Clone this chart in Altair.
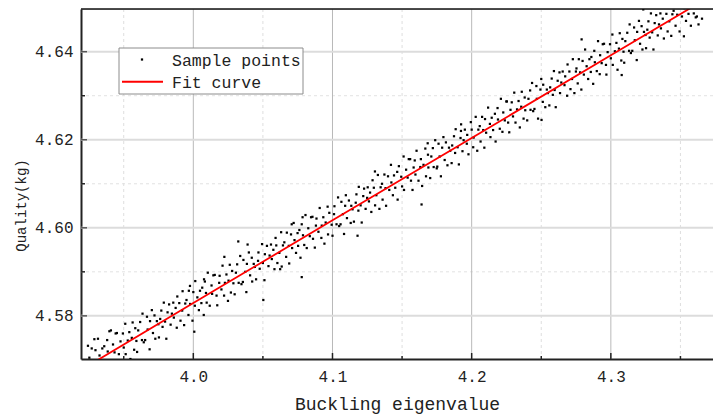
import altair as alt
import pandas as pd

# ---------------- data ----------------
sample_x = [
    3.9253, 3.9262, 3.9270, 3.9279, 3.9288, 3.9297, 3.9306, 3.9315, 3.9326, 3.9337, 3.9346,
    3.9356, 3.9360, 3.9373, 3.9381, 3.9385, 3.9399, 3.9408, 3.9420, 3.9423, 3.9434, 3.9442,
    3.9451, 3.9465, 3.9468, 3.9477, 3.9494, 3.9500, 3.9511, 3.9514, 3.9529, 3.9540, 3.9548,
    3.9558, 3.9564, 3.9575, 3.9583, 3.9591, 3.9596, 3.9604, 3.9618, 3.9631, 3.9635, 3.9644,
    3.9654, 3.9667, 3.9672, 3.9686, 3.9689, 3.9702, 3.9710, 3.9721, 3.9727, 3.9738, 3.9749,
    3.9753, 3.9762, 3.9770, 3.9779, 3.9788, 3.9797, 3.9806, 3.9815, 3.9826, 3.9837, 3.9846,
    3.9856, 3.9860, 3.9873, 3.9881, 3.9885, 3.9899, 3.9908, 3.9920, 3.9923, 3.9934, 3.9942,
    3.9951, 3.9965, 3.9968, 3.9977, 3.9994, 4.0000, 4.0011, 4.0014, 4.0029, 4.0040, 4.0048,
    4.0058, 4.0064, 4.0075, 4.0083, 4.0091, 4.0096, 4.0104, 4.0118, 4.0131, 4.0135, 4.0144,
    4.0154, 4.0167, 4.0172, 4.0186, 4.0189, 4.0202, 4.0210, 4.0221, 4.0227, 4.0238, 4.0249,
    4.0253, 4.0262, 4.0270, 4.0279, 4.0288, 4.0297, 4.0306, 4.0315, 4.0326, 4.0337, 4.0346,
    4.0356, 4.0360, 4.0373, 4.0381, 4.0385, 4.0399, 4.0408, 4.0420, 4.0423, 4.0434, 4.0442,
    4.0451, 4.0465, 4.0468, 4.0477, 4.0494, 4.0500, 4.0511, 4.0514, 4.0529, 4.0540, 4.0548,
    4.0558, 4.0564, 4.0575, 4.0583, 4.0591, 4.0596, 4.0604, 4.0618, 4.0631, 4.0635, 4.0644,
    4.0654, 4.0667, 4.0672, 4.0686, 4.0689, 4.0702, 4.0710, 4.0721, 4.0727, 4.0738, 4.0749,
    4.0753, 4.0762, 4.0770, 4.0779, 4.0788, 4.0797, 4.0806, 4.0815, 4.0826, 4.0837, 4.0846,
    4.0856, 4.0860, 4.0873, 4.0881, 4.0885, 4.0899, 4.0908, 4.0920, 4.0923, 4.0934, 4.0942,
    4.0951, 4.0965, 4.0968, 4.0977, 4.0994, 4.1000, 4.1011, 4.1014, 4.1029, 4.1040, 4.1048,
    4.1058, 4.1064, 4.1075, 4.1083, 4.1091, 4.1096, 4.1104, 4.1118, 4.1131, 4.1135, 4.1144,
    4.1154, 4.1167, 4.1172, 4.1186, 4.1189, 4.1202, 4.1210, 4.1221, 4.1227, 4.1238, 4.1249,
    4.1253, 4.1262, 4.1270, 4.1279, 4.1288, 4.1297, 4.1306, 4.1315, 4.1326, 4.1337, 4.1346,
    4.1356, 4.1360, 4.1373, 4.1381, 4.1385, 4.1399, 4.1408, 4.1420, 4.1423, 4.1434, 4.1442,
    4.1451, 4.1465, 4.1468, 4.1477, 4.1494, 4.1500, 4.1511, 4.1514, 4.1529, 4.1540, 4.1548,
    4.1558, 4.1564, 4.1575, 4.1583, 4.1591, 4.1596, 4.1604, 4.1618, 4.1631, 4.1635, 4.1644,
    4.1654, 4.1667, 4.1672, 4.1686, 4.1689, 4.1702, 4.1710, 4.1721, 4.1727, 4.1738, 4.1749,
    4.1753, 4.1762, 4.1770, 4.1779, 4.1788, 4.1797, 4.1806, 4.1815, 4.1826, 4.1837, 4.1846,
    4.1856, 4.1860, 4.1873, 4.1881, 4.1885, 4.1899, 4.1908, 4.1920, 4.1923, 4.1934, 4.1942,
    4.1951, 4.1965, 4.1968, 4.1977, 4.1994, 4.2000, 4.2011, 4.2014, 4.2029, 4.2040, 4.2048,
    4.2058, 4.2064, 4.2075, 4.2083, 4.2091, 4.2096, 4.2104, 4.2118, 4.2131, 4.2135, 4.2144,
    4.2154, 4.2167, 4.2172, 4.2186, 4.2189, 4.2202, 4.2210, 4.2221, 4.2227, 4.2238, 4.2249,
    4.2253, 4.2262, 4.2270, 4.2279, 4.2288, 4.2297, 4.2306, 4.2315, 4.2326, 4.2337, 4.2346,
    4.2356, 4.2360, 4.2373, 4.2381, 4.2385, 4.2399, 4.2408, 4.2420, 4.2423, 4.2434, 4.2442,
    4.2451, 4.2465, 4.2468, 4.2477, 4.2494, 4.2500, 4.2511, 4.2514, 4.2529, 4.2540, 4.2548,
    4.2558, 4.2564, 4.2575, 4.2583, 4.2591, 4.2596, 4.2604, 4.2618, 4.2631, 4.2635, 4.2644,
    4.2654, 4.2667, 4.2672, 4.2686, 4.2689, 4.2702, 4.2710, 4.2721, 4.2727, 4.2738, 4.2749,
    4.2753, 4.2762, 4.2770, 4.2779, 4.2788, 4.2797, 4.2806, 4.2815, 4.2826, 4.2837, 4.2846,
    4.2856, 4.2860, 4.2873, 4.2881, 4.2885, 4.2899, 4.2908, 4.2920, 4.2923, 4.2934, 4.2942,
    4.2951, 4.2965, 4.2968, 4.2977, 4.2994, 4.3000, 4.3011, 4.3014, 4.3029, 4.3040, 4.3048,
    4.3058, 4.3064, 4.3075, 4.3083, 4.3091, 4.3096, 4.3104, 4.3118, 4.3131, 4.3135, 4.3144,
    4.3154, 4.3167, 4.3172, 4.3186, 4.3189, 4.3202, 4.3210, 4.3221, 4.3227, 4.3238, 4.3249,
    4.3253, 4.3262, 4.3270, 4.3279, 4.3288, 4.3297, 4.3306, 4.3315, 4.3326, 4.3337, 4.3346,
    4.3356, 4.3360, 4.3373, 4.3381, 4.3385, 4.3399, 4.3408, 4.3420, 4.3423, 4.3434, 4.3442,
    4.3451, 4.3465, 4.3468, 4.3477, 4.3494, 4.3500, 4.3511, 4.3514, 4.3529, 4.3540, 4.3548,
    4.3558, 4.3564, 4.3575, 4.3583, 4.3591, 4.3596, 4.3604, 4.3618, 4.3631, 4.3635, 4.3644,
    # isolated points
    4.0007, 4.0323, 4.0390, 4.0503, 4.0624, 4.0707, 4.0779, 4.0785, 4.1180, 4.1305,
    4.1640, 4.1684, 4.1924, 4.2502, 4.2790, 4.3078, 4.3233, 4.3525, 4.3655, 3.9243,
    3.9289, 3.9397, 4.0223, 3.9976, 4.0077, 4.3610, 4.3630,
]
sample_y = [
    4.5705, 4.5671, 4.5726, 4.5696, 4.5657, 4.5722, 4.5691, 4.5748, 4.5710, 4.5681, 4.5726,
    4.5697, 4.5731, 4.5670, 4.5745, 4.5719, 4.5699, 4.5767, 4.5692, 4.5735, 4.5717, 4.5760,
    4.5761, 4.5713, 4.5691, 4.5742, 4.5760, 4.5728, 4.5782, 4.5713, 4.5744, 4.5763, 4.5702,
    4.5750, 4.5785, 4.5723, 4.5772, 4.5743, 4.5718, 4.5767, 4.5786, 4.5745, 4.5805, 4.5740,
    4.5745, 4.5798, 4.5769, 4.5724, 4.5788, 4.5813, 4.5761, 4.5801, 4.5748, 4.5788, 4.5781,
    4.5751, 4.5793, 4.5812, 4.5775, 4.5830, 4.5787, 4.5748, 4.5808, 4.5826, 4.5780, 4.5805,
    4.5830, 4.5796, 4.5818, 4.5773, 4.5844, 4.5829, 4.5789, 4.5812, 4.5856, 4.5779, 4.5828,
    4.5836, 4.5802, 4.5857, 4.5827, 4.5789, 4.5854, 4.5823, 4.5879, 4.5842, 4.5813, 4.5857,
    4.5829, 4.5864, 4.5802, 4.5878, 4.5852, 4.5830, 4.5898, 4.5823, 4.5869, 4.5850, 4.5892,
    4.5893, 4.5846, 4.5824, 4.5875, 4.5891, 4.5860, 4.5914, 4.5846, 4.5875, 4.5894, 4.5834,
    4.5880, 4.5916, 4.5853, 4.5902, 4.5874, 4.5849, 4.5898, 4.5917, 4.5875, 4.5936, 4.5872,
    4.5877, 4.5927, 4.5900, 4.5854, 4.5918, 4.5944, 4.5892, 4.5932, 4.5878, 4.5918, 4.5911,
    4.5883, 4.5925, 4.5944, 4.5907, 4.5963, 4.5920, 4.5881, 4.5940, 4.5959, 4.5913, 4.5937,
    4.5962, 4.5929, 4.5950, 4.5906, 4.5977, 4.5960, 4.5920, 4.5943, 4.5990, 4.5912, 4.5960,
    4.5967, 4.5934, 4.5989, 4.5959, 4.5919, 4.5985, 4.5954, 4.6011, 4.5972, 4.5943, 4.5988,
    4.5959, 4.5995, 4.5932, 4.6008, 4.5983, 4.5961, 4.6029, 4.5954, 4.5999, 4.5981, 4.6024,
    4.6025, 4.5975, 4.5955, 4.6005, 4.6021, 4.5991, 4.6045, 4.5977, 4.6005, 4.6024, 4.5964,
    4.6012, 4.6048, 4.5985, 4.6034, 4.6007, 4.5982, 4.6031, 4.6049, 4.6008, 4.6069, 4.6004,
    4.6008, 4.6059, 4.6031, 4.5986, 4.6050, 4.6074, 4.6022, 4.6062, 4.6011, 4.6050, 4.6042,
    4.6014, 4.6057, 4.6076, 4.6039, 4.6093, 4.6051, 4.6012, 4.6072, 4.6089, 4.6043, 4.6068,
    4.6092, 4.6060, 4.6080, 4.6036, 4.6108, 4.6091, 4.6051, 4.6074, 4.6120, 4.6043, 4.6092,
    4.6100, 4.6064, 4.6121, 4.6090, 4.6050, 4.6117, 4.6086, 4.6143, 4.6103, 4.6074, 4.6119,
    4.6091, 4.6127, 4.6064, 4.6140, 4.6116, 4.6094, 4.6162, 4.6086, 4.6132, 4.6114, 4.6156,
    4.6156, 4.6107, 4.6086, 4.6137, 4.6153, 4.6121, 4.6175, 4.6107, 4.6138, 4.6156, 4.6095,
    4.6143, 4.6180, 4.6117, 4.6166, 4.6137, 4.6113, 4.6162, 4.6181, 4.6138, 4.6199, 4.6135,
    4.6139, 4.6191, 4.6162, 4.6117, 4.6182, 4.6206, 4.6154, 4.6194, 4.6142, 4.6182, 4.6175,
    4.6147, 4.6187, 4.6208, 4.6170, 4.6224, 4.6183, 4.6144, 4.6204, 4.6220, 4.6174, 4.6199,
    4.6223, 4.6191, 4.6211, 4.6167, 4.6240, 4.6223, 4.6183, 4.6205, 4.6252, 4.6175, 4.6223,
    4.6231, 4.6196, 4.6252, 4.6222, 4.6182, 4.6247, 4.6216, 4.6273, 4.6236, 4.6206, 4.6250,
    4.6222, 4.6259, 4.6196, 4.6272, 4.6246, 4.6225, 4.6293, 4.6218, 4.6262, 4.6244, 4.6287,
    4.6287, 4.6239, 4.6217, 4.6268, 4.6285, 4.6253, 4.6307, 4.6239, 4.6269, 4.6288, 4.6228,
    4.6275, 4.6309, 4.6248, 4.6296, 4.6267, 4.6244, 4.6293, 4.6312, 4.6268, 4.6329, 4.6265,
    4.6270, 4.6322, 4.6293, 4.6248, 4.6314, 4.6338, 4.6286, 4.6325, 4.6274, 4.6314, 4.6306,
    4.6278, 4.6319, 4.6339, 4.6302, 4.6356, 4.6313, 4.6274, 4.6334, 4.6353, 4.6306, 4.6330,
    4.6355, 4.6324, 4.6344, 4.6300, 4.6371, 4.6355, 4.6315, 4.6338, 4.6383, 4.6306, 4.6355,
    4.6362, 4.6328, 4.6383, 4.6353, 4.6314, 4.6379, 4.6348, 4.6405, 4.6367, 4.6338, 4.6383,
    4.6354, 4.6388, 4.6327, 4.6402, 4.6376, 4.6356, 4.6424, 4.6349, 4.6392, 4.6374, 4.6417,
    4.6418, 4.6370, 4.6348, 4.6399, 4.6417, 4.6385, 4.6439, 4.6370, 4.6401, 4.6420, 4.6359,
    4.6407, 4.6442, 4.6380, 4.6429, 4.6400, 4.6375, 4.6424, 4.6443, 4.6402, 4.6462, 4.6397,
    4.6402, 4.6455, 4.6426, 4.6381, 4.6445, 4.6470, 4.6418, 4.6458, 4.6405, 4.6445, 4.6438,
    4.6408, 4.6450, 4.6469, 4.6432, 4.6487, 4.6444, 4.6405, 4.6465, 4.6483, 4.6437, 4.6462,
    4.6487, 4.6453, 4.6475, 4.6430, 4.6501, 4.6486, 4.6446, 4.6469, 4.6513, 4.6436, 4.6485,
    4.6493, 4.6459, 4.6514, 4.6484, 4.6446, 4.6511, 4.6480, 4.6536, 4.6499, 4.6470, 4.6514,
    4.6486, 4.6521, 4.6459, 4.6535, 4.6509, 4.6487, 4.6555, 4.6480, 4.6526, 4.6507, 4.6549,
    # isolated points
    4.5764, 4.5969, 4.5962, 4.5836, 4.5906, 4.6008, 4.5888, 4.6024, 4.5982, 4.6128,
    4.6053, 4.6192, 4.6235, 4.6245, 4.6428, 4.6347, 4.6496, 4.6435, 4.6475, 4.5732,
    4.5747, 4.5765, 4.5934, 4.5868, 4.5883, 4.6478, 4.6462,
]
fit_x = [3.9315, 4.0, 4.1, 4.2, 4.3, 4.3577]
fit_y = [4.5700, 4.5829, 4.6017, 4.6204, 4.6392, 4.6500]

x_major = [4.0, 4.1, 4.2, 4.3]
x_minor = [3.95, 4.05, 4.15, 4.25, 4.35]
y_major = [4.58, 4.60, 4.62, 4.64]
y_minor = [4.59, 4.61, 4.63]
legend_labels = ["Sample points", "Fit curve"]

# ---------------- chart ----------------
W, H = 632, 350
FONT = "Liberation Mono"
xs = alt.Scale(domain=[3.9193, 4.3734], nice=False, zero=False)
ys = alt.Scale(domain=[4.5702, 4.6497], nice=False, zero=False)

x_axis = alt.Axis(
    values=x_major, format=".1f", title="Buckling eigenvalue", grid=False, ticks=False,
    domainColor="#222", domainWidth=2, labelFont=FONT, labelFontSize=16,
    labelColor="#222", labelPadding=9, titleFont=FONT, titleFontSize=18,
    titleFontWeight="normal", titleColor="#222", titlePadding=11)
y_axis = alt.Axis(
    values=y_major, format=".2f", title="Quality(kg)", grid=False, ticks=False,
    domainColor="#222", domainWidth=2, labelFont=FONT, labelFontSize=16,
    labelColor="#222", labelPadding=8, titleFont=FONT, titleFontSize=14,
    titleFontWeight="normal", titleColor="#222", titleX=-53, titleY=196,
    titleBaseline="bottom")

def X():
    return alt.X("x:Q", scale=xs, axis=x_axis)

def Y():
    return alt.Y("y:Q", scale=ys, axis=y_axis)

n = min(len(sample_x), len(sample_y))
pts = pd.DataFrame({"x": sample_x[:n], "y": sample_y[:n]})
fit = pd.DataFrame({"x": fit_x, "y": fit_y})
one = pd.DataFrame({"a": [0]})

vgrid_major = alt.Chart(pd.DataFrame({"x": x_major})).mark_rule(
    color="#b9b9b9", strokeWidth=1).encode(x=X())
vgrid_minor = alt.Chart(pd.DataFrame({"x": x_minor})).mark_rule(
    color="#dedede", strokeWidth=1, strokeDash=[3, 3]).encode(x=X())
hgrid_major = alt.Chart(pd.DataFrame({"y": y_major})).mark_rule(
    color="#dcdcdc", strokeWidth=2).encode(y=Y())
hgrid_minor = alt.Chart(pd.DataFrame({"y": y_minor})).mark_rule(
    color="#e2e2e2", strokeWidth=1, strokeDash=[3, 3]).encode(y=Y())

xt_major = alt.Chart(pd.DataFrame({"x": x_major})).mark_rule(color="#222", strokeWidth=1.5).encode(
    x=X(), y=alt.value(H), y2=alt.value(H - 6))
xt_minor = alt.Chart(pd.DataFrame({"x": x_minor})).mark_rule(color="#222", strokeWidth=1.5).encode(
    x=X(), y=alt.value(H), y2=alt.value(H - 3))
yt_major = alt.Chart(pd.DataFrame({"y": y_major})).mark_rule(color="#555", strokeWidth=1.5).encode(
    y=Y(), x=alt.value(0), x2=alt.value(6))
yt_minor = alt.Chart(pd.DataFrame({"y": y_minor})).mark_rule(color="#222", strokeWidth=1.5).encode(
    y=Y(), x=alt.value(0), x2=alt.value(4))
top_border = alt.Chart(one).mark_rule(color="#111", strokeWidth=1.5).encode(
    x=alt.value(0), x2=alt.value(W), y=alt.value(0))

scatter = alt.Chart(pts).mark_square(size=5, color="#000", opacity=1, clip=True).encode(
    x=X(), y=Y())
fit_line = alt.Chart(fit).mark_line(color="#ff0000", strokeWidth=1.8, clip=True).encode(
    x=X(), y=Y())

legend_box = alt.Chart(one).mark_rect(fill="white", stroke="#8c8c8c", strokeWidth=1).encode(
    x=alt.value(38), x2=alt.value(222), y=alt.value(39), y2=alt.value(85))
legend_dot = alt.Chart(one).mark_square(size=5, color="#000", opacity=1).encode(
    x=alt.value(61), y=alt.value(50.5))
legend_line = alt.Chart(one).mark_rule(color="#ff0000", strokeWidth=2).encode(
    x=alt.value(41), x2=alt.value(82), y=alt.value(72.7))
legend_t1 = alt.Chart(one).mark_text(font=FONT, fontSize=16.5, align="left", baseline="middle",
                                      color="#222").encode(
    x=alt.value(91), y=alt.value(51.5), text=alt.value(legend_labels[0]))
legend_t2 = alt.Chart(one).mark_text(font=FONT, fontSize=16.5, align="left", baseline="middle",
                                      color="#222").encode(
    x=alt.value(91), y=alt.value(73.5), text=alt.value(legend_labels[1]))

chart = alt.layer(
    vgrid_minor, hgrid_minor, vgrid_major, hgrid_major,
    scatter, fit_line, xt_major, xt_minor, yt_major, yt_minor, top_border,
    legend_box, legend_dot, legend_line, legend_t1, legend_t2,
).properties(
    width=W, height=H, autosize="none",
    padding={"left": 81, "top": 9, "right": 0, "bottom": 59},
).configure_view(stroke=None).configure(background="white")

chart.save("out.html", embed_options={"renderer": "svg", "actions": False})
